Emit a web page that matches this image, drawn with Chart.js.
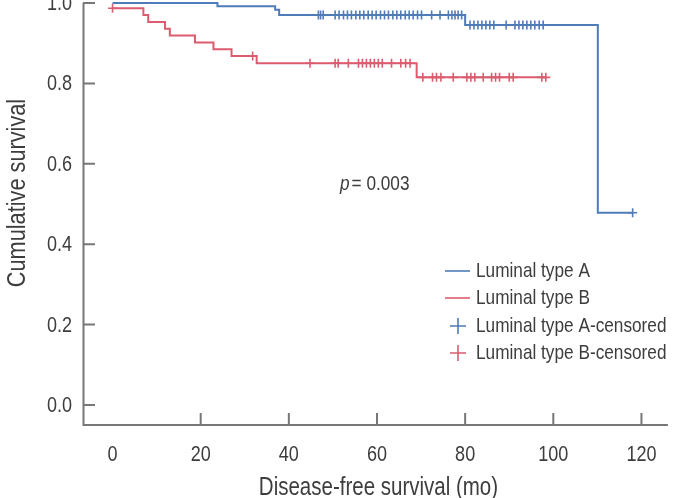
<!DOCTYPE html>
<html>
<head>
<meta charset="utf-8">
<script src="https://cdn.jsdelivr.net/npm/chart.js@4.4.1/dist/chart.umd.min.js"></script>
<style>
  html, body { margin: 0; padding: 0; background: #fff; overflow: hidden; }
  #wrap { width: 674px; height: 498px; overflow: hidden; position: relative; }
  #km { position: absolute; left: 0; top: -20px; }
</style>
</head>
<body>
<div id="wrap"><canvas id="km" width="674" height="518"></canvas></div>
<script>
// --- Data ---
const xTicks = [0, 20, 40, 60, 80, 100, 120];
const yTicks = [0, 0.2, 0.4, 0.6, 0.8, 1.0];

// Luminal type A: event times (mo) and survival after each step
const aTimes = [0, 23.8, 36.9, 37.8, 80.0, 110.1, 118.0];
const aSurv  = [1.0, 0.992, 0.983, 0.970, 0.945, 0.478, 0.478];
const aCensored = [46.7, 47.2, 47.8, 50.5, 51.4, 52.4, 53.3, 54.2, 55.2, 56.1, 57.0, 58.0, 58.9,
  59.8, 60.8, 61.7, 62.6, 63.6, 64.5, 65.4, 66.4, 67.3, 68.2, 69.2, 70.1, 72.4, 74.3, 76.2, 77.0,
  77.7, 78.4, 79.2, 81.1, 82.0, 82.9, 83.8, 84.7, 85.6, 86.5, 89.3, 91.3, 92.2, 93.1, 94.0, 94.9,
  95.8, 96.8, 97.7, 118.0];

// Luminal type B
const bTimes = [0, 7.0, 8.1, 11.9, 13.0, 18.7, 22.9, 27.0, 32.7, 69.0, 98.3];
const bSurv  = [0.987, 0.970, 0.953, 0.936, 0.919, 0.902, 0.885, 0.868, 0.850, 0.815, 0.815];
const bCensored = [0, 31.8, 44.8, 50.5, 51.2, 53.5, 55.8, 56.7, 57.6, 58.5, 59.4, 60.3, 61.2, 63.3,
  65.4, 66.5, 67.5, 70.4, 72.6, 73.5, 74.5, 77.3, 80.4, 81.3, 82.2, 84.1, 86.0, 86.9, 87.8, 90.0,
  90.9, 97.4, 98.3];

const seriesNames = ['Luminal type A', 'Luminal type B', 'Luminal type A-censored', 'Luminal type B-censored'];
const pValueText = '0.003';

// --- Style ---
const BLUE = '#4f7bb8';
const RED = '#dc5c6f';
const AXIS = '#777777';
const TEXT = '#3d3d3d';
const FONT = "'Liberation Sans', Arial, sans-serif";
const NARROW = 0.82; // no narrow face installed, squeeze the regular one

function survAt(times, surv, t) {
  let s = surv[0];
  for (let i = 0; i < times.length; i++) if (times[i] <= t) s = surv[i];
  return s;
}

const steps = (times, surv) => times.map((t, i) => ({ x: t, y: surv[i] }));
const marks = (cens, times, surv) => cens.map(t => ({ x: t, y: survAt(times, surv, t) }));

function narrowText(ctx, text, x, y, size, opts = {}) {
  ctx.save();
  ctx.translate(x, y);
  if (opts.rotate) ctx.rotate(opts.rotate);
  ctx.scale(NARROW, 1);
  ctx.font = `${opts.italic ? 'italic ' : ''}${size}px ${FONT}`;
  ctx.textAlign = opts.align || 'left';
  ctx.textBaseline = 'middle';
  ctx.fillStyle = TEXT;
  ctx.fillText(text, 0, 0);
  const w = ctx.measureText(text).width * NARROW;
  ctx.restore();
  return w;
}

// axes, tick marks + labels, titles, p-value and legend
const decorations = {
  id: 'decorations',
  afterDraw(chart) {
    const { ctx, chartArea: a, scales: { x, y } } = chart;
    ctx.save();
    ctx.strokeStyle = AXIS;
    ctx.lineWidth = 2;
    ctx.beginPath();
    ctx.moveTo(a.left + 0.5, y.getPixelForValue(1.0));
    ctx.lineTo(a.left + 0.5, a.bottom);
    ctx.lineTo(a.right, a.bottom);
    y.ticks.forEach(t => {
      const py = y.getPixelForValue(t.value);
      ctx.moveTo(a.left, py);
      ctx.lineTo(a.left + 12, py);
    });
    x.ticks.forEach(t => {
      if (t.value === 0) return;
      const px = x.getPixelForValue(t.value);
      ctx.moveTo(px, a.bottom);
      ctx.lineTo(px, a.bottom - 12);
    });
    ctx.stroke();

    y.ticks.forEach(t => {
      narrowText(ctx, t.value.toFixed(1), 72, y.getPixelForValue(t.value) + 1, 22, { align: 'right' });
    });
    x.ticks.forEach(t => {
      narrowText(ctx, String(t.value), x.getPixelForValue(t.value), a.bottom + 30, 22, { align: 'center' });
    });

    // axis titles
    narrowText(ctx, 'Disease-free survival (mo)', (a.left + a.right) / 2 + 3, 508, 25, { align: 'center' });
    narrowText(ctx, 'Cumulative survival', 18, 213, 26.5, { align: 'center', rotate: -Math.PI / 2 });

    // p value
    const px0 = x.getPixelForValue(51.6), py0 = y.getPixelForValue(0.55);
    const pw = narrowText(ctx, 'p', px0, py0, 21, { italic: true });
    narrowText(ctx, '= ' + pValueText, px0 + pw + 2, py0, 21);

    // legend
    const rows = [291, 318, 346, 373];
    const colors = [BLUE, RED, BLUE, RED];
    rows.forEach((ry, i) => {
      ctx.strokeStyle = colors[i];
      ctx.lineWidth = 1.6;
      ctx.beginPath();
      if (i < 2) {
        ctx.moveTo(445, ry); ctx.lineTo(470, ry);
      } else {
        ctx.moveTo(450, ry); ctx.lineTo(466, ry);
        ctx.moveTo(458, ry - 8); ctx.lineTo(458, ry + 8);
      }
      ctx.stroke();
      narrowText(ctx, seriesNames[i], 476, ry, 21);
    });
    ctx.restore();
  }
};

new Chart(document.getElementById('km'), {
  type: 'scatter',
  data: {
    datasets: [
      { label: seriesNames[0], data: steps(aTimes, aSurv), showLine: true, stepped: true,
        borderColor: BLUE, borderWidth: 2, pointRadius: 0, clip: false },
      { label: seriesNames[1], data: steps(bTimes, bSurv), showLine: true, stepped: true,
        borderColor: RED, borderWidth: 2, pointRadius: 0, clip: false },
      { label: seriesNames[2], data: marks(aCensored, aTimes, aSurv), showLine: false,
        pointStyle: 'cross', pointRadius: 4.5, borderColor: BLUE, borderWidth: 1.6, clip: false },
      { label: seriesNames[3], data: marks(bCensored, bTimes, bSurv), showLine: false,
        pointStyle: 'cross', pointRadius: 4.5, borderColor: RED, borderWidth: 1.6, clip: false }
    ]
  },
  options: {
    responsive: false,
    animation: false,
    events: [],
    layout: { padding: { left: 0, right: 6, top: 23, bottom: 0 } },
    plugins: { legend: { display: false }, tooltip: { enabled: false } },
    scales: {
      x: {
        type: 'linear', min: -6.7, max: 126,
        grid: { display: false, drawTicks: false }, border: { display: false },
        afterBuildTicks: s => { s.ticks = xTicks.map(v => ({ value: v })); },
        afterFit: s => { s.height = 73; },
        ticks: { display: false }
      },
      y: {
        min: -0.05, max: 1.0,
        grid: { display: false, drawTicks: false }, border: { display: false },
        afterBuildTicks: s => { s.ticks = yTicks.map(v => ({ value: v })); },
        afterFit: s => { s.width = 83; },
        ticks: { display: false }
      }
    }
  },
  plugins: [decorations]
});
</script>
</body>
</html>
